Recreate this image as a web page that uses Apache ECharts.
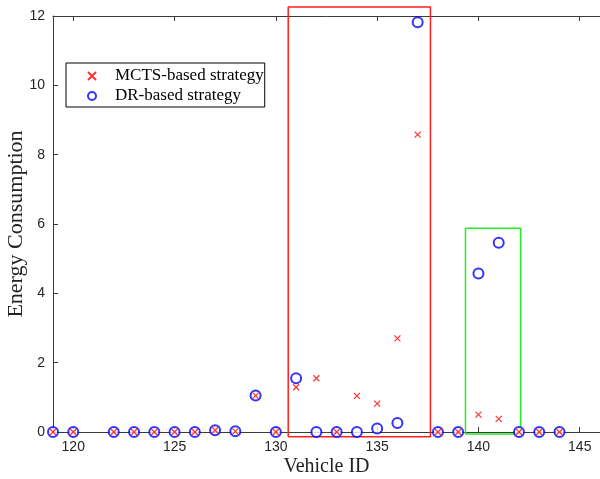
<!DOCTYPE html>
<html>
<head>
<meta charset="utf-8">
<script src="https://cdn.jsdelivr.net/npm/echarts@6/dist/echarts.min.js"></script>
<style>html,body{margin:0;padding:0;background:#fff}#c{width:600px;height:479px}</style>
</head>
<body>
<div id="c"></div>
<script>
const vehicleIds = [119,120,122,123,124,125,126,127,128,129,130,131,132,133,134,135,136,137,138,139,140,141,142,143,144];
const mctsValues = [0,0,0,0,0,0,0,0.05,0.02,1.05,0,1.29,1.55,0,1.04,0.82,2.7,8.58,0,0,0.5,0.38,0,0,0];
const drValues   = [0,0,0,0,0,0,0,0.05,0.02,1.05,0,1.55,0,0,0,0.1,0.26,11.82,0,0,4.57,5.46,0,0,0];
const xTicks = [120,125,130,135,140,145];
const redBox = [130.61, 137.63, -0.14, 12.26];
const greenBox = [139.36, 142.08, -0.06, 5.88];

function boxPath(b){ return [[b[0],b[2]],[b[1],b[2]],[b[1],b[3]],[b[0],b[3]],[b[0],b[2]]]; }

const chart = echarts.init(document.getElementById('c'));
const serif = 'Liberation Serif';
const sans = 'Liberation Sans';
const axisColor = '#3a3a3a';
chart.setOption({
  animation: false,
  grid: {left: 53, right: 0, top: 16, bottom: 47, containLabel: false, outerBoundsMode: 'none'},
  legend: {
    data: ['MCTS-based strategy', 'DR-based strategy'],
    orient: 'vertical', left: 66, top: 63,
    padding: [3, 1, 1, 21],
    itemWidth: 36, itemHeight: 8, itemGap: 0,
    borderColor: '#000', borderWidth: 1, backgroundColor: '#fff',
    textStyle: {fontFamily: serif, fontSize: 17, color: '#000', lineHeight: 20}
  },
  xAxis: [{
    type: 'value', min: 119, max: 146,
    name: 'Vehicle ID', nameLocation: 'middle', nameGap: 25, nameMoveOverlap: false,
    nameTextStyle: {fontFamily: serif, fontSize: 20, color: '#222'},
    axisLine: {show: true, onZero: false, lineStyle: {color: axisColor, width: 1}},
    axisTick: {show: true, inside: true, length: 5, customValues: xTicks, lineStyle: {color: axisColor}},
    axisLabel: {customValues: xTicks, margin: 8, fontFamily: sans, fontSize: 14, color: '#262626'},
    splitLine: {show: false}
  }, {
    type: 'value', min: 119, max: 146, position: 'top',
    axisLine: {show: true, onZero: false, lineStyle: {color: axisColor, width: 1}},
    axisTick: {show: true, inside: true, length: 5, customValues: xTicks, lineStyle: {color: axisColor}},
    axisLabel: {show: false},
    splitLine: {show: false}
  }],
  yAxis: {
    type: 'value', min: 0, max: 12, interval: 2,
    name: 'Energy Consumption', nameLocation: 'middle', nameGap: 26, nameMoveOverlap: false,
    nameTextStyle: {fontFamily: serif, fontSize: 22, color: '#222'},
    axisLine: {show: true, lineStyle: {color: axisColor, width: 1}},
    axisTick: {show: true, inside: true, length: 5, lineStyle: {color: axisColor}},
    axisLabel: {margin: 8, fontFamily: sans, fontSize: 14, color: '#262626'},
    splitLine: {show: false}
  },
  series: [
    {
      name: 'DR-based strategy', type: 'scatter', clip: false,
      data: vehicleIds.map((v,i)=>[v, drValues[i]]),
      symbol: 'emptyCircle', symbolSize: 10,
      itemStyle: {color: '#0000ff', borderColor: '#0000ff', borderWidth: 1.2}
    },
    {
      name: 'MCTS-based strategy', type: 'scatter', clip: false,
      data: vehicleIds.map((v,i)=>[v, mctsValues[i]]),
      symbol: 'path://M0,0L10,10M10,0L0,10', symbolSize: 6,
      itemStyle: {color: '#ff0000', borderColor: '#ff0000', borderWidth: 1.2}
    },
    {
      name: 'redBox', type: 'line', clip: false, silent: true, symbol: 'none',
      data: boxPath(redBox), lineStyle: {color: '#ff2020', width: 1.5}, z: 1
    },
    {
      name: 'greenBox', type: 'line', clip: false, silent: true, symbol: 'none',
      data: boxPath(greenBox), lineStyle: {color: '#22ee22', width: 1.5}, z: 1
    }
  ]
});
</script>
</body>
</html>
